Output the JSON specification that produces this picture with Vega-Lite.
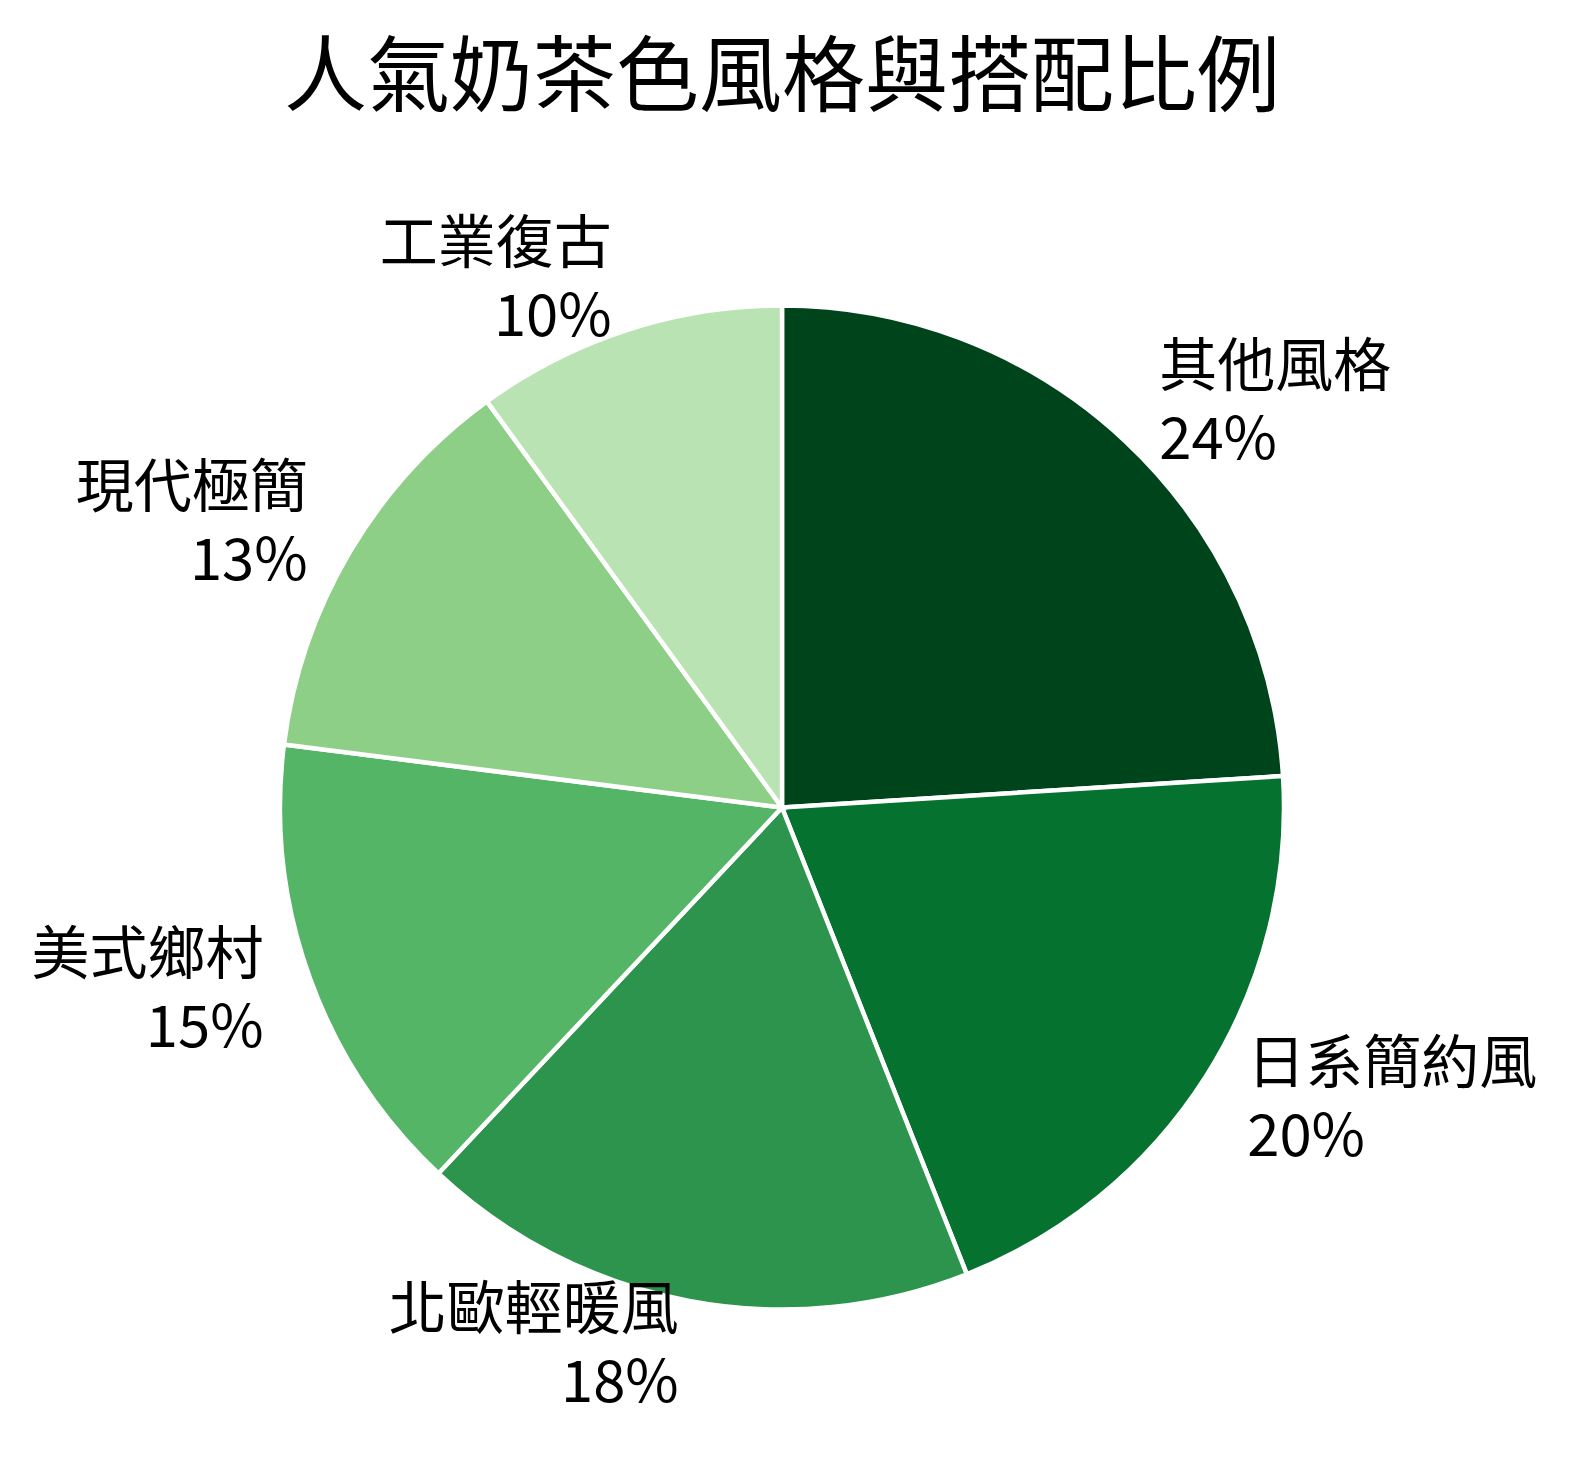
{
  "$schema": "https://vega.github.io/schema/vega-lite/v6.json",
  "description": "Pie chart of popular milk-tea colour styles.",
  "width": 1564,
  "height": 1321,
  "autosize": {"type": "none"},
  "padding": {"left": 0, "top": 147, "right": 9, "bottom": 0},
  "background": "white",
  "title": {
    "text": "人氣奶茶色風格與搭配比例",
    "font": "Noto Sans CJK TC",
    "fontSize": 83,
    "fontWeight": "normal",
    "color": "black",
    "anchor": "middle",
    "baseline": "alphabetic",
    "offset": -41
  },
  "data": {
    "values": [
      {"style": "其他風格", "share": 0.24},
      {"style": "日系簡約風", "share": 0.20},
      {"style": "北歐輕暖風", "share": 0.18},
      {"style": "美式鄉村", "share": 0.15},
      {"style": "現代極簡", "share": 0.13},
      {"style": "工業復古", "share": 0.10}
    ]
  },
  "encoding": {
    "theta": {"field": "share", "type": "quantitative", "stack": true},
    "order": {"field": "share", "sort": "descending"}
  },
  "layer": [
    {
      "mark": {"type": "arc", "outerRadius": 502, "stroke": "white", "strokeWidth": 4.5},
      "encoding": {
        "color": {
          "field": "style",
          "type": "nominal",
          "legend": null,
          "scale": {
            "domain": ["其他風格", "日系簡約風", "北歐輕暖風", "美式鄉村", "現代極簡", "工業復古"],
            "range": ["#00441b", "#067230", "#2c944c", "#55b567", "#8ecf87", "#b9e3b3"]
          }
        }
      }
    },
    {
      "mark": {
        "type": "text",
        "radius": 551,
        "align": {"expr": "indexof(['其他風格', '日系簡約風'], datum.style) >= 0 ? 'left' : 'right'"},
        "baseline": "middle",
        "dy": -37,
        "font": "Noto Sans CJK TC",
        "fontSize": 58,
        "color": "black"
      },
      "encoding": {"text": {"field": "style"}}
    },
    {
      "mark": {
        "type": "text",
        "radius": 551,
        "align": {"expr": "indexof(['其他風格', '日系簡約風'], datum.style) >= 0 ? 'left' : 'right'"},
        "baseline": "middle",
        "dy": 36,
        "font": "Noto Sans CJK TC",
        "fontSize": 58,
        "color": "black"
      },
      "encoding": {"text": {"field": "share", "type": "quantitative", "format": ".0%"}}
    }
  ],
  "config": {"view": {"stroke": null}}
}
